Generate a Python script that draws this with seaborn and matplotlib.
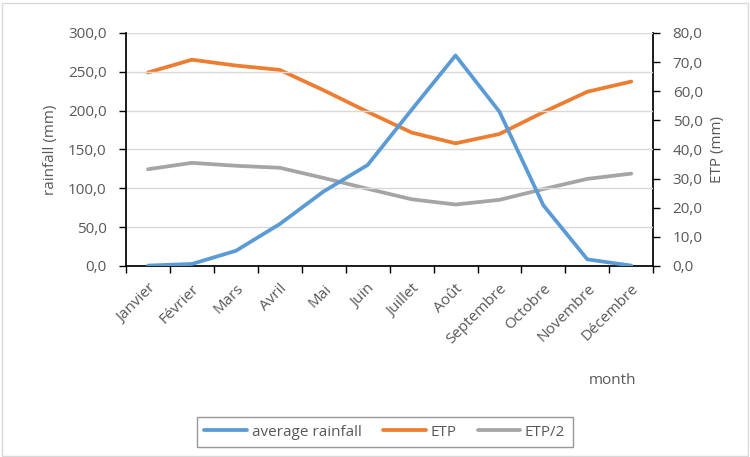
import matplotlib
matplotlib.use("Agg")
import matplotlib.pyplot as plt
import seaborn as sns
import pandas as pd
import numpy as np
from matplotlib.lines import Line2D
from matplotlib.patches import Rectangle

months = ["Janvier", "Février", "Mars", "Avril", "Mai", "Juin", "Juillet",
          "Août", "Septembre", "Octobre", "Novembre", "Décembre"]
rainfall = [0.5, 2.6, 19.5, 54.0, 96.0, 130.0, 201.0, 271.0, 198.5, 78.0, 8.5, 0.5]
etp = [66.4, 70.8, 68.8, 67.3, 60.3, 52.9, 45.8, 42.1, 45.3, 52.8, 59.8, 63.3]
etp_half = [33.2, 35.4, 34.4, 33.7, 30.2, 26.5, 22.9, 21.1, 22.7, 26.4, 29.9, 31.7]

sns.set_theme(style="white")
plt.rcParams['font.family'] = ['Open Sans', 'DejaVu Sans']

BLUE = "#5B9BD5"
ORANGE = "#ED7D31"
GRAY = "#A5A5A5"
TXT = "#595959"
FS = 11

df = pd.DataFrame({"x": np.arange(len(months)), "month": months,
                   "rainfall": rainfall, "etp": etp, "etp_half": etp_half})

fig = plt.figure(figsize=(7.5, 4.57), dpi=100)
ax = fig.add_axes([0.168, 0.418, 0.703, 0.510])
ax2 = ax.twinx()

lw = 2.7
sns.lineplot(data=df, x="x", y="rainfall", ax=ax, color=BLUE, linewidth=lw,
             solid_capstyle="round", solid_joinstyle="round", zorder=5)
sns.lineplot(data=df, x="x", y="etp", ax=ax2, color=ORANGE, linewidth=lw,
             solid_capstyle="round", solid_joinstyle="round")
sns.lineplot(data=df, x="x", y="etp_half", ax=ax2, color=GRAY, linewidth=lw,
             solid_capstyle="round", solid_joinstyle="round")

ax.set_zorder(ax2.get_zorder() + 1)
ax.patch.set_visible(False)

ax.set_xlim(-0.5, len(months) - 0.5)
ax.set_ylim(0, 300)
ax2.set_ylim(0, 80)
ax.set_yticks(np.arange(0, 301, 50))
ax2.set_yticks(np.arange(0, 81, 10))
fmt = lambda v: f"{v:.1f}".replace(".", ",")
ax.set_yticklabels([fmt(v) for v in np.arange(0, 301, 50)])
ax2.set_yticklabels([fmt(v) for v in np.arange(0, 81, 10)])

ax.set_xticks(np.arange(-0.5, len(months), 1.0))
ax.set_xticklabels([])
ax.set_xticks(np.arange(len(months)), minor=True)
ax.set_xticklabels(months, minor=True, rotation=45, ha="right",
                   rotation_mode="anchor", fontsize=FS, color=TXT)
ax.tick_params(axis="x", which="minor", length=0, pad=11)
ax.tick_params(axis="x", which="major", length=5, width=1, color="black",
               direction="out", bottom=True)

ax.grid(axis="y", color="#D9D9D9", linewidth=1)
ax2.grid(False)

ax.tick_params(axis="y", length=5, width=1, color="black", direction="out",
               left=True, labelsize=FS, labelcolor=TXT, pad=9)
ax2.tick_params(axis="y", length=5, width=1, color="black", direction="out",
                right=True, labelsize=FS, labelcolor=TXT, pad=9)

for a in (ax, ax2):
    a.spines["top"].set_visible(False)
ax.spines["right"].set_visible(False)
ax.spines["left"].set_color("black")
ax.spines["bottom"].set_color("black")
ax2.spines["left"].set_visible(False)
ax2.spines["bottom"].set_visible(False)
ax2.spines["right"].set_color("black")

ax.set_xlabel("")
ax.set_ylabel("rainfall (mm)", fontsize=FS, color=TXT, labelpad=7)
ax2.set_ylabel("ETP (mm)", fontsize=FS, color=TXT, labelpad=5)

fig.text(0.849, 0.168, "month", fontsize=FS, color=TXT, ha="right", va="center")

handles = [Line2D([0], [0], color=c, linewidth=lw) for c in (BLUE, ORANGE, GRAY)]
leg = fig.legend(handles, ["average rainfall", "ETP", "ETP/2"], loc="center",
                 bbox_to_anchor=(0.513, 0.054), ncol=3, frameon=True,
                 fontsize=FS, handlelength=2.8, handletextpad=0.3,
                 columnspacing=1.4, fancybox=False, borderpad=0.5,
                 borderaxespad=0)
leg.get_frame().set_edgecolor("#7F7F7F")
leg.get_frame().set_linewidth(1)
for t in leg.get_texts():
    t.set_color(TXT)

fig.patches.append(Rectangle((0.003, 0.003), 0.994, 0.99, transform=fig.transFigure,
                             fill=False, edgecolor="#D9D9D9", linewidth=1))

fig.savefig("out.png", dpi=100)
